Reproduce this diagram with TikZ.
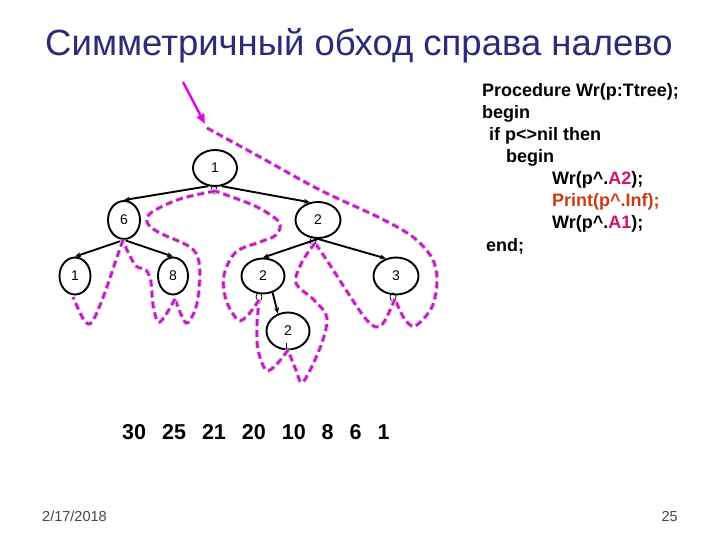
\documentclass[tikz,border=0pt]{standalone}
\usepackage{fontspec}
\setmainfont{Liberation Sans}
\usetikzlibrary{shapes.geometric,arrows.meta}
\definecolor{titlecol}{RGB}{46,42,122}
\definecolor{trav}{RGB}{190,24,190}
\definecolor{arrowcol}{RGB}{230,0,230}
\definecolor{acol}{RGB}{214,16,110}
\definecolor{printcol}{RGB}{204,60,20}
\definecolor{footcol}{RGB}{70,70,70}
\begin{document}
\begin{tikzpicture}[x=1pt,y=-1pt]
\tikzset{
  tnode/.style={draw, ellipse, line width=1.9pt, inner sep=0pt, font=\fontsize{14}{14}\selectfont},
  dotnode/.style={draw, ellipse, line width=0.7pt, minimum width=6pt, minimum height=8pt, inner sep=0pt},
  tedge/.style={line width=1.9pt, -{Stealth[length=6pt,width=5pt]}},
  travline/.style={trav, line width=2.4pt, dash pattern=on 7pt off 4pt, line cap=butt,
    preaction={draw, trav!30, line width=4.6pt, dash pattern=on 7pt off 4pt}},
  codeline/.style={anchor=west, font=\bfseries\fontsize{18}{18}\selectfont, inner sep=0pt},
  foot/.style={inner sep=0pt, text=footcol, font=\fontsize{14.5}{15}\selectfont},
}
\useasboundingbox (0,0) rectangle (720,540);
\fill[white] (0,0) rectangle (720,540);

% title
\node[font=\fontsize{36.5}{37}\selectfont, text=titlecol] (title) at (359,46) {Симметричный обход справа налево};

% tree nodes
\node[tnode, minimum width=44pt, minimum height=36pt] (root) at (215,168) {1};
\node[tnode, minimum width=32pt, minimum height=38pt] (six) at (124,220) {6};
\node[tnode, minimum width=45pt, minimum height=36pt] (twoR) at (318,220) {2};
\node[tnode, minimum width=31pt, minimum height=37pt] (leaf) at (75,276) {1};
\node[tnode, minimum width=30pt, minimum height=37pt] (eight) at (173,276) {8};
\node[tnode, minimum width=43pt, minimum height=35pt] (twoL) at (263,276) {2};
\node[tnode, minimum width=45pt, minimum height=37pt] (three) at (396,276) {3};
\node[tnode, minimum width=43pt, minimum height=37pt] (twoB) at (288,331) {2};

% small marks under nodes
\node[dotnode] (d1) at (214,190) {};
\node[dotnode] (d2) at (313,241) {};
\node[dotnode] (d3) at (259,297) {};
\node[dotnode] (d4) at (393,297) {};
\coordinate (t1) at (286,343);
\coordinate (t2) at (286,351);
\draw[line width=0.8pt] (t1) -- (t2);

% tree edges
\draw[tedge] (root.250) -- (six.north);
\draw[tedge] (root.290) -- (twoR.115);
\draw[tedge] (six.south) -- (leaf.north);
\draw[tedge] (six.south) -- (eight.north);
\draw[tedge] (twoR.south) -- (twoL.north);
\draw[tedge] (twoR.south) -- (three.120);
\draw[tedge] (twoL.300) -- (twoB.120);

% start arrow
\coordinate (st) at (183,82);
\coordinate (en) at (205,124);
\draw[arrowcol, line width=2.4pt, -{Triangle[length=10pt,width=8pt]}] (st) -- (en);

% traversal path
\draw[travline] plot[smooth, tension=0.55] coordinates {(207,128) (260,157) (320,190) (380,218) (413,237) (432,258) (437,280) (432,307) (415,326) (404,318) (395,299)};
\draw[travline] plot[smooth, tension=0.55] coordinates {(395,299) (384,322) (376,327) (365,318) (348,293) (328,262) (315,243)};
\draw[travline] plot[smooth, tension=0.55] coordinates {(315,243) (302,262) (296,283) (314,300) (327,318) (320,348) (303,382) (296,370) (288,350)};
\draw[travline] plot[smooth, tension=0.55] coordinates {(288,350) (276,365) (266,370) (258,350) (257,325) (259,300)};
\draw[travline] plot[smooth, tension=0.55] coordinates {(259,300) (248,315) (238,320) (226,300) (224,275) (236,252) (260,242) (276,235) (279,222) (255,206) (215,191)};
\draw[travline] plot[smooth, tension=0.55] coordinates {(215,191) (180,199) (152,212) (147,222) (158,232) (190,247) (199,262) (199,290) (195,310) (186,323) (175,299)};
\draw[travline] plot[smooth, tension=0.55] coordinates {(175,299) (165,316) (158,322) (153,305) (151,282) (146,270) (136,266) (127,250) (123,240)};
\draw[travline] plot[smooth, tension=0.55] coordinates {(123,240) (116,260) (104,295) (92,322) (84,320) (73,297)};

% code
\node[codeline] (c1) at (482,92) {Procedure Wr(p:Ttree);};
\node[codeline] (c2) at (482,114) {begin};
\node[codeline] (c3) at (489,136) {if p<>nil then};
\node[codeline] (c4) at (506,158) {begin};
\node[codeline] (c5) at (552,180) {Wr(p\textasciicircum.\textcolor{acol}{A2});};
\node[codeline, text=printcol] (c6) at (552,202) {Print(p\textasciicircum.Inf);};
\node[codeline] (c7) at (552,224) {Wr(p\textasciicircum.\textcolor{acol}{A1});};
\node[codeline] (c8) at (486,246) {end;};

% output sequence
\node[anchor=west, inner sep=0pt, font=\bfseries\fontsize{21.5}{22}\selectfont] (out) at (122,432) {30\hspace{16pt}25\hspace{16pt}21\hspace{16pt}20\hspace{16pt}10\hspace{16pt}8\hspace{16pt}6\hspace{16pt}1};

% footer
\node[foot, anchor=base west] (date) at (42,521) {2/17/2018};
\node[foot, anchor=base east] (page) at (678,521) {25};
\end{tikzpicture}
\end{document}
